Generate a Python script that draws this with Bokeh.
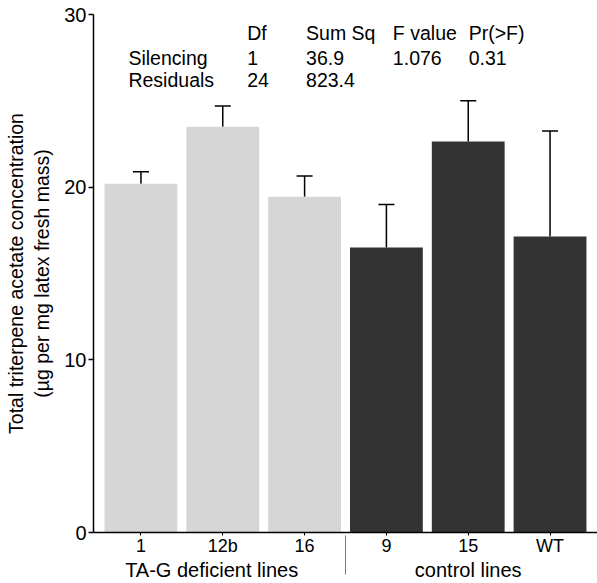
from bokeh.plotting import figure
from bokeh.models import (ColumnDataSource, FactorRange, Range1d, Whisker, TeeHead,
                          Label, FixedTicker)
from bokeh.embed import file_html
from bokeh.resources import INLINE

# Mean triterpene acetate concentration per line, with upper standard error
groups = ["TA-G deficient lines"] * 3 + ["control lines"] * 3
lines = ["1", "12b", "16", "9", "15", "WT"]
means = [20.2, 23.5, 19.45, 16.5, 22.65, 17.15]
errors = [0.7, 1.2, 1.2, 2.5, 2.35, 6.1]
bar_colors = ["#d6d6d6"] * 3 + ["#333333"] * 3

# ANOVA summary table
anova_columns = ["", "Df", "Sum Sq", "F value", "Pr(>F)"]
anova_silencing = ["Silencing", "1", "36.9", "1.076", "0.31"]
anova_residuals = ["Residuals", "24", "823.4", "", ""]

y_ticks = [0, 10, 20, 30]

FONT = "Liberation Sans"

# the first group's caption sits a little left of its group centre;
# trailing no-break spaces nudge it over
group_pad = {"TA-G deficient lines": "\u00a0" * 4, "control lines": ""}
factors = [(g + group_pad[g], l) for g, l in zip(groups, lines)]

src = ColumnDataSource(dict(
    x=factors,
    top=means,
    upper=[m + e for m, e in zip(means, errors)],
    color=bar_colors,
))

x_range = FactorRange(*factors, factor_padding=0, group_padding=0,
                      range_padding=0.08, range_padding_units="absolute")

p = figure(width=597, height=583, x_range=x_range, y_range=Range1d(0, 30),
           output_backend="svg", toolbar_location=None,
           min_border_left=93, min_border_right=0, min_border_top=14,
           min_border_bottom=50)
p.outline_line_color = None
p.grid.grid_line_color = None
p.background_fill_color = "white"
p.border_fill_color = "white"

p.vbar(x="x", top="top", width=0.89, source=src, fill_color="color",
       line_color=None)

p.add_layout(Whisker(source=src, base="x", lower="top", upper="upper",
                     dimension="height", line_color="black", line_width=1.5,
                     lower_head=None,
                     upper_head=TeeHead(size=16, line_color="black", line_width=1.5)))

# y axis
ya = p.yaxis[0]
ya.ticker = FixedTicker(ticks=y_ticks)
ya.minor_tick_line_color = None
ya.major_tick_in = 0
ya.major_tick_out = 5
ya.axis_line_width = 1.5
ya.major_tick_line_width = 1.5
ya.axis_line_color = "black"
ya.major_tick_line_color = "black"
ya.major_label_text_font = FONT
ya.major_label_text_font_size = "20px"
ya.major_label_text_color = "black"
ya.major_label_standoff = 2
ya.axis_label = "Total triterpene acetate concentration\n(\u00b5g per mg latex fresh mass)"
ya.axis_label_text_font = FONT
ya.axis_label_text_font_size = "19.5px"
ya.axis_label_text_font_style = "normal"
ya.axis_label_text_color = "black"
ya.axis_label_standoff = 8

# x axis with line names grouped by type
xa = p.xaxis[0]
xa.axis_line_width = 1.5
xa.axis_line_color = "black"
xa.major_tick_in = 0
xa.major_tick_out = 3
xa.major_tick_line_color = "black"
xa.major_tick_line_width = 1
xa.major_label_text_font = FONT
xa.major_label_text_font_size = "18px"
xa.major_label_text_color = "black"
xa.major_label_standoff = 0
xa.group_text_font = FONT
xa.group_text_font_size = "20px"
xa.group_text_font_style = "normal"
xa.group_text_color = "black"
xa.separator_line_color = "#777777"
xa.separator_line_width = 1

# ANOVA table drawn in the upper part of the plot
col_x = [0.347, 1.798, 2.518, 3.579, 4.506]
row_y = [28.9, 27.46, 26.18]
for row, yv in zip([anova_columns, anova_silencing, anova_residuals], row_y):
    for txt, xv in zip(row, col_x):
        if txt:
            p.add_layout(Label(x=xv, y=yv, text=txt, text_baseline="middle",
                               text_align="left", text_font=FONT,
                               text_font_size="19.5px", text_color="black"))

open("out.html", "w").write(file_html(p, INLINE))
